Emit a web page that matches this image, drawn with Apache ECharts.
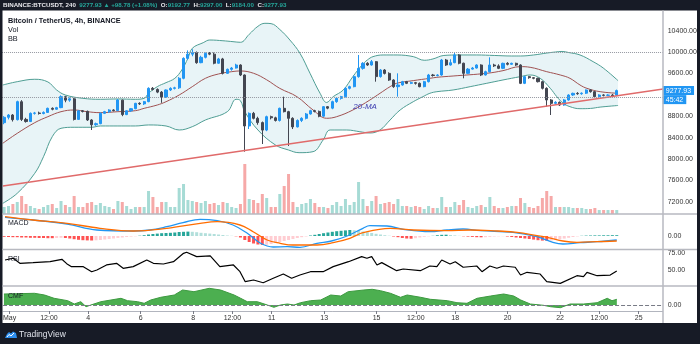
<!DOCTYPE html>
<html><head><meta charset="utf-8">
<script src="https://cdn.jsdelivr.net/npm/echarts@6/dist/echarts.min.js"></script>
<style>html,body{margin:0;padding:0;background:#fff;}#c{width:700px;height:344px;}</style>
</head><body><div id="c"></div>
<script>
// ---------- DATA ----------
// candle index 0 = Apr 30 20:00, step 4h; each candle [open, close, low, high]
const candles = [
[8679,8779,8650,8800],[8779,8822,8740,8840],[8822,8735,8700,8840],[8735,9072,8720,9090],[9070,8740,8710,9100],
[8740,8700,8680,8770],[8700,8853,8690,8870],[8853,8860,8830,8880],[8860,8850,8830,8885],[8850,8870,8835,8890],
[8870,8947,8860,8960],[8947,8930,8910,8965],[8930,8960,8920,8975],[8960,9165,8950,9190],[9165,9100,9060,9180],
[9100,9125,9070,9150],[9125,8740,8720,9140],[8740,8900,8730,8910],[8900,8890,8870,8915],[8890,8729,8710,8905],
[8729,8640,8542,8745],[8640,8660,8620,8680],[8660,8853,8650,8870],[8853,8885,8840,8900],[8885,8916,8860,8930],
[8916,8905,8890,8930],[8905,9103,8895,9120],[9100,8830,8800,9110],[8830,8900,8820,8910],[8900,8940,8880,8950],
[8940,9040,8930,9050],[9040,9030,9010,9060],[9030,9072,9010,9085],[9072,9321,9060,9340],[9321,9300,9280,9345],
[9300,9250,9230,9320],[9250,9160,9050,9270],[9160,9290,9140,9300],[9290,9320,9270,9340],[9320,9330,9300,9350],
[9330,9508,9310,9530],[9508,9881,9490,9900],[9881,9960,9860,10030],[9960,9990,9920,10050],[9990,9800,9780,10010],
[9800,9900,9790,9930],[9900,9975,9880,9990],[9975,9960,9940,10000],[9960,9790,9770,9990],[9790,9870,9780,9890],
[9870,9601,9580,9890],[9601,9676,9590,9690],[9676,9700,9650,9720],[9700,9757,9690,9780],[9757,9570,9550,9770],
[9570,8617,8137,9580],[8617,8853,8560,8870],[8853,8760,8740,8880],[8760,8680,8640,8790],[8680,8540,8280,8700],
[8540,8791,8520,8810],[8791,8770,8740,8810],[8770,8720,8700,8790],[8720,8947,8700,8960],[8947,8885,8870,9165],
[8885,8760,8243,8900],[8760,8600,8560,8780],[8600,8720,8590,8740],[8720,8760,8690,8780],[8760,8841,8740,8860],
[8841,8903,8830,8920],[8903,8890,8870,8920],[8890,8800,8780,8905],[8800,8978,8790,8990],[8978,8950,8930,8990],
[8950,9072,8930,9090],[9072,9134,9050,9150],[9134,9165,9110,9180],[9165,9321,9150,9340],[9321,9352,9300,9370],
[9352,9539,9340,9560],[9539,9694,9520,9944],[9694,9788,9670,9810],[9788,9757,9740,9810],[9757,9819,9745,9850],
[9819,9540,9445,9830],[9540,9663,9520,9680],[9663,9600,9580,9680],[9600,9476,9460,9620],[9476,9352,9330,9490],
[9352,9383,9165,9601],[9383,9445,9370,9460],[9445,9414,9400,9460],[9414,9427,9400,9445],[9427,9414,9390,9440],
[9414,9352,9340,9430],[9352,9445,9340,9460],[9445,9570,9430,9590],[9570,9560,9540,9590],[9560,9570,9545,9585],
[9570,9850,9555,9870],[9850,9757,9740,9870],[9757,9800,9745,9865],[9800,9944,9790,9980],[9944,9790,9770,9960],
[9790,9601,9508,9800],[9601,9680,9590,9700],[9680,9700,9670,9720],[9700,9757,9690,9770],[9757,9570,9550,9770],
[9570,9632,9560,9650],[9632,9757,9620,9900],[9757,9740,9720,9780],[9740,9694,9680,9770],[9694,9788,9680,9800],
[9788,9770,9750,9810],[9770,9788,9760,9800],[9788,9757,9740,9800],[9757,9414,9400,9770],[9414,9539,9400,9550],
[9539,9520,9500,9550],[9520,9508,9490,9530],[9508,9445,9430,9520],[9445,9321,9300,9460],[9321,9103,8978,9340],
[9103,9040,8822,9120],[9040,9060,9020,9080],[9060,9009,8990,9075],[9009,9103,8995,9120],[9103,9196,9090,9210],
[9196,9227,9180,9240],[9227,9220,9200,9250],[9220,9230,9200,9245],[9230,9290,9215,9300],[9290,9258,9240,9305],
[9258,9165,9150,9270],[9165,9196,9150,9210],[9196,9190,9170,9210],[9190,9195,9175,9210],[9195,9179.15,9160,9215],
[9192.77,9277.93,9184,9297]
];
// volume (relative units), one per candle
const volumes = [
7,8,10,12,18,10,8,6,5,7,9,10,6,13,9,7,18,
7,7,11,12,9,11,8,7,5,13,12,8,5,7,7,7,
23,17,7,12,12,7,7,26,30,14,13,12,11,13,10,11,9,12,11,7,6,10,
50,15,14,11,20,16,7,7,20,28,40,12,7,10,11,15,11,7,7,6,
9,12,8,15,9,12,32,15,8,13,18,10,11,12,10,15,8,8,7,8,7,5,8,6,6,17,7,7,12,9,14,7,6,8,9,7,17,8,6,6,7,8,8,16,11,7,6,8,16,23,18,7,7,7,7,6,6,6,5,5,6,4,4,4,4,4
];
// Bollinger bands read at sample points: [candle index, price]
const bbUpper = [[-0.3,9383],[3,9445],[7,9490],[10,9440],[12,9290],[14,9196],[18,9134],[22,9116],[26,9122],[30,9116],[32,9134],[33,9228],[35,9352],[37,9427],[39,9508],[40.6,9664],[42,9882],[43,10069],[45.5,10174],[47,10224],[50,10210],[52.3,10193],[54,10181],[56,10330],[58,10480],[59.6,10536],[61,10530],[63,10420],[65.3,10224],[67.6,9976],[69.9,9602],[72.2,9228],[73.7,9056],[75.2,9165],[77.5,9290],[79.7,9540],[81.8,9757],[83,9850],[84.3,9913],[86.6,9944],[89.8,9944],[93.5,9913],[96,9845],[98,9870],[100.5,9935],[104,9944],[108,9944],[112,9935],[116,9925],[118,9925],[121,9944],[124,9980],[126,10000],[127.5,10010],[129,9990],[131.6,9944],[134.6,9819],[136.9,9701],[140.3,9464]];
const bbBasis = [[-0.3,8294],[3,8480],[7,8679],[10,8791],[13,8884],[16,8916],[19,8884],[22,8866],[26,8884],[30,8903],[32,8947],[35,9009],[37,9071],[40,9196],[43,9352],[46,9508],[49,9589],[52,9632],[54,9645],[57,9602],[60,9480],[63,9320],[66.9,9165],[70.6,8916],[73.7,8761],[76,8791],[79.7,8916],[83.6,9103],[85.9,9228],[88.2,9352],[89.7,9415],[93.5,9465],[97.3,9508],[98.9,9527],[102.6,9551],[110.3,9602],[114,9651],[117.9,9726],[120.2,9714],[124,9632],[127.1,9570],[129.3,9508],[131.6,9383],[133.2,9320],[136.2,9258],[140.3,9228]];
const bbLower = [[-0.3,7172],[3,7359],[7,7733],[9,8043],[11,8417],[13,8574],[16,8593],[20,8593],[22,8617],[30,8617],[33,8636],[37,8617],[40,8542],[43,8604],[46,8729],[51,8884],[53,9116],[54,9090],[55,8884],[58,8542],[62,8262],[65,8168],[67.4,8118],[70.6,8137],[72.9,8355],[74.5,8542],[78.3,8542],[81.3,8510],[83.6,8486],[85.9,8542],[88.2,8729],[90.5,8916],[93.5,9071],[95.7,9165],[97.3,9228],[98.9,9258],[102.6,9290],[106.5,9352],[110.3,9415],[114,9477],[117.9,9538],[120.2,9570],[122.5,9508],[124.8,9322],[126.3,9165],[127.7,9047],[129.3,8978],[131.6,8940],[134,8945],[136.2,8970],[140.3,9000]];
// drawn rising trendline (two anchor points) and horizontal levels
const trendLine = [[-0.26,7495],[150.6,9308]];
const hLevels = [10000, 9160];
const lastPrice = 9277.93, countdown = '45:42';
// MACD
const macdHist = [
-8,-10,-12,-12,-15,-15,
-18,-18,-20,-20,-22,-22,-20,-18,-20,
-25,-32,-38,-42,-44,-45,-43,-40,
-35,-30,-25,-20,-15,-10,-6,-3,
3,8,15,20,24,28,30,32,35,40,42,44,42,38,
32,28,24,20,15,10,5,2,-3,
-15,-40,-60,-75,-85,-90,-88,-80,-70,
-60,-50,-40,-30,-20,-12,-5,
5,12,20,28,35,42,48,52,56,60,58,
52,45,38,30,22,15,8,3,
-5,-12,-20,-25,-27,-22,-15,
-8,-3,2,
8,12,13,10,6,
2,-3,-6,-9,
-12,-13,-12,-9,-5,
-3,-2,-5,-10,
-15,-20,-25,-30,-36,-42,-46,-47,-45,-40,-34,
-26,-18,-10,-4,
2,4,5,6,6,7,7,8,8
];
const macdLine = [[0.2,187],[6.6,160],[14.4,120],[21.2,60],[29.5,50],[33.3,60],[37.2,93],[40.9,133],[44.8,167],[48.7,153],[52.3,110],[55.5,30],[58.5,-70],[61.5,-110],[64.7,-107],[67.6,-113],[71.5,-73],[74.8,-50],[78.4,0],[82,77],[83.6,103],[87.5,100],[91.2,67],[97.3,43],[101.2,60],[104.9,70],[108.8,53],[116.3,37],[121.8,-7],[125.4,-63],[127.7,-80],[131.6,-67],[135.5,-57],[140,-40]];
const signalLine = [[0.2,193],[6.6,160],[14.4,127],[21.9,77],[29.5,50],[37.2,77],[44.8,127],[48.7,143],[53.9,110],[56.9,43],[60.1,-40],[63.1,-73],[66,-90],[71.5,-90],[75.2,-67],[79,-23],[82,33],[88.2,77],[93.5,60],[101.2,53],[106.5,60],[112.7,50],[117.2,37],[124.1,-13],[127.7,-50],[130.9,-63],[135.5,-57],[140,-50]];
// RSI
const rsiLine = [[0.2,64.7],[2.1,67.2],[3.6,59.8],[6.6,60.8],[10.5,62.2],[13.2,65.7],[14.3,59.3],[15.4,54.9],[18.1,54.9],[20,47.5],[21.2,50],[23.4,57.4],[25.7,59.8],[27.2,52.5],[29.5,54.9],[32.6,64.7],[34.1,59.8],[36.4,58.8],[38.7,62.2],[41,74.5],[41.7,76],[44,69.6],[47.1,70.6],[49.3,54.9],[52.4,57.4],[53.9,47.5],[55.1,32.8],[57,35.3],[59.2,31.3],[61.5,37.8],[63.8,44.1],[65.7,37.8],[67.6,42.6],[70,47.5],[72.9,47.5],[75.2,54.9],[78.7,62.2],[81.7,69.6],[82.9,67.2],[84,69.6],[85.2,57.4],[86.3,60.8],[89.7,49],[91.2,51.5],[95.1,49],[97.3,55.9],[98.9,54.9],[100,64.7],[101.9,58.8],[103.1,62.2],[104.9,54],[108,55.9],[109.2,47.5],[111,55.9],[112.6,52.5],[114.1,55.9],[116.8,54],[118,42.6],[119.5,46.6],[122.5,44.1],[124,32.8],[127.1,30.4],[130.9,41.6],[132.4,40.2],[133.2,46.6],[135.5,41.6],[138.5,42.6],[140,48.5]];
// CMF
const cmfLine = [[-0.3,0.11],[6.7,0.117],[9,0.10],[11.2,0.067],[14.3,0.043],[15.8,0.01],[17.3,0.033],[18.5,-0.017],[19.6,0],[21.9,0.033],[24.2,0.05],[26.5,0.067],[28,0.043],[30.3,0.033],[31.8,0.017],[33.3,0.05],[35.6,0.077],[38.7,0.10],[40.6,0.15],[43.2,0.133],[46.7,0.167],[49.3,0.15],[52.4,0.10],[53.9,0.067],[55.4,0.033],[57.7,0.033],[60,0],[61.5,-0.023],[63,0],[64.6,0.01],[66.1,0],[67.6,0.023],[69.9,0.043],[72.2,0.05],[74.5,0.10],[76.8,0.09],[78.5,0.133],[82.1,0.15],[84,0.157],[85.9,0.143],[88.2,0.117],[90.5,0.077],[92,0.10],[95.1,0.077],[97.3,0.057],[101.2,0.043],[103.4,0.023],[105.7,0.017],[108,0.067],[111.1,0.09],[114.1,0.11],[116.4,0.09],[118,0.05],[120.2,0.01],[123.2,-0.003],[124.8,-0.017],[127.1,-0.027],[129.3,0.01],[132.4,0.01],[135.5,0.023],[137.8,0.067],[138.9,0.043],[140,0.057]];
// tick labels
const priceTicks = [7200,7600,8000,8400,8800,9600,10000,10400];
const macdTicks = [0], rsiTicks = [50,75], cmfTicks = [0];
const timeTicks = [['05-01 00:00','May'],['05-02 12:00','12:00'],['05-04 00:00','4'],['05-06 00:00','6'],['05-08 00:00','8'],['05-09 12:00','12:00'],['05-11 00:00','11'],['05-13 00:00','13'],['05-15 00:00','15'],['05-16 12:00','12:00'],['05-18 00:00','18'],['05-20 00:00','20'],['05-22 00:00','22'],['05-23 12:00','12:00'],['05-25 00:00','25']];

// ---------- BUILD ----------
const SLOTS = 151, START = Date.UTC(2020,3,30,20,0);
const p2 = n => String(n).padStart(2,'0');
const categories = [];
for (let k = 0; k < SLOTS; k++) {
  const d = new Date(START + k*4*3600e3);
  categories.push(p2(d.getUTCMonth()+1)+'-'+p2(d.getUTCDate())+' '+p2(d.getUTCHours())+':00');
}
const tickMap = Object.fromEntries(timeTicks);
const isTick = (idx) => tickMap[categories[idx]] !== undefined;
const isUp = candles.map(c => c[1] >= c[0]);
const volData = volumes.map((v,k) => ({value: v, itemStyle: {color: isUp[k] ? '#a6dbd5' : '#f6a9a8'}}));
const histData = macdHist.map((v,k) => {
  const p = k ? macdHist[k-1] : v;
  const col = v >= 0 ? (v >= p ? '#26a69a' : '#b2dfdb') : (v <= p ? '#ff5252' : '#ffcdd2');
  return {value: v, itemStyle: {color: col}};
});

const FONT = 'Liberation Sans';
const L = 1.94, R = 37.3;
const hidCat = g => ({type:'category', gridIndex:g, data:categories, show:false});
const hidVal = g => ({type:'value', gridIndex:g, min:-0.5, max:SLOTS-0.5, show:false});
const rightAxis = (g, min, max, ticks) => ({
  type:'value', gridIndex:g, position:'right', min, max,
  splitLine:{show:false}, axisLine:{show:false}, axisTick:{show:false},
  axisLabel:{customValues:ticks, fontSize:7, color:'#333', margin:5, fontFamily:FONT, formatter: v => v.toFixed(2)}
});

const option = {
  backgroundColor:'#fff', animation:false,
  grid:[
    {left:L, right:R, top:11, height:203},
    {left:L, right:R, top:134, height:80},
    {left:L, right:R, top:214, height:35.5},
    {left:L, right:R, top:249.5, height:36.5},
    {left:L, right:R, top:286, height:25}
  ],
  xAxis:[
    hidCat(0), hidVal(0), hidCat(1), hidCat(2), hidVal(2), hidVal(3), hidVal(4),
    {type:'category', gridIndex:4, data:categories, position:'bottom',
     axisLine:{show:true, lineStyle:{color:'#b2b5be', width:1}},
     axisTick:{show:true, alignWithLabel:true, interval:isTick, length:3, lineStyle:{color:'#787b86'}},
     axisLabel:{interval:isTick, fontSize:7, color:'#333', margin:4, fontFamily:FONT, formatter: v => tickMap[v] || ''}}
  ],
  yAxis:[
    rightAxis(0, 6972, 10766, priceTicks),
    {type:'value', gridIndex:1, min:0, max:80, show:false},
    rightAxis(2, -135, 220, macdTicks),
    rightAxis(3, 26.5, 80.1, rsiTicks),
    rightAxis(4, -0.06, 0.19, cmfTicks)
  ],
  series:[
    {type:'line', name:'BB upper', xAxisIndex:1, yAxisIndex:0, data:bbUpper, smooth:0.4, symbol:'none', z:1,
     lineStyle:{color:'#4f9e94', width:1}, areaStyle:{color:'#e8f4f7', opacity:1, origin:'start'}},
    {type:'line', name:'BB lower', xAxisIndex:1, yAxisIndex:0, data:bbLower, smooth:0.4, symbol:'none', z:1,
     lineStyle:{color:'#4f9e94', width:1}, areaStyle:{color:'#ffffff', opacity:1, origin:'start'}},
    {type:'line', name:'20-MA', xAxisIndex:1, yAxisIndex:0, data:bbBasis, smooth:0.4, symbol:'none', z:2,
     lineStyle:{color:'#a05252', width:1},
     markPoint:{symbol:'circle', symbolSize:0, data:[{coord:[82.5, 8985]}],
       label:{show:true, formatter:'20-MA', color:'#3d3db0', fontStyle:'italic', fontSize:8, fontFamily:FONT}}},
    {type:'candlestick', name:'BTCUSDT', xAxisIndex:0, yAxisIndex:0, data:candles, barWidth:2.6, z:3,
     itemStyle:{color:'#2196f3', color0:'#434651', borderColor:'#2196f3', borderColor0:'#434651', borderWidth:1},
     markLine:{silent:true, symbol:'none', animation:false,
       data:hLevels.map(v => ({yAxis:v})), label:{show:false},
       lineStyle:{type:'dotted', color:'#9598a1', width:1}}},
    {type:'line', name:'last', xAxisIndex:1, yAxisIndex:0, data:[[150.5, lastPrice]], symbol:'circle', symbolSize:0.1, z:20,
     label:{show:true, position:'right', distance:0, offset:[0,4.5],
       formatter:'{a|'+lastPrice.toFixed(2)+'}\n{b|'+countdown+'}',
       rich:{a:{backgroundColor:'#2196f3', color:'#fff', fontSize:7, padding:[1,3,1,3], fontFamily:FONT, lineHeight:9},
             b:{backgroundColor:'#2196f3', color:'#fff', fontSize:7, padding:[1,3,1,3], fontFamily:FONT, lineHeight:9}}}},
    {type:'line', name:'trend', xAxisIndex:1, yAxisIndex:0, data:trendLine, symbol:'none', z:4,
     lineStyle:{color:'#e06a6a', width:1.3}},
    {type:'bar', name:'Vol', xAxisIndex:2, yAxisIndex:1, data:volData, barWidth:3, z:2},
    {type:'bar', name:'Histogram', xAxisIndex:3, yAxisIndex:2, data:histData, barWidth:3},
    {type:'line', name:'MACD', xAxisIndex:4, yAxisIndex:2, data:macdLine, smooth:0.4, symbol:'none',
     lineStyle:{color:'#2196f3', width:1.3}},
    {type:'line', name:'Signal', xAxisIndex:4, yAxisIndex:2, data:signalLine, smooth:0.4, symbol:'none',
     lineStyle:{color:'#ff6d00', width:1.3}},
    {type:'line', name:'RSI', xAxisIndex:5, yAxisIndex:3, data:rsiLine, symbol:'none',
     lineStyle:{color:'#000', width:1.2}},
    {type:'line', name:'CMF', xAxisIndex:6, yAxisIndex:4, data:cmfLine, symbol:'none',
     lineStyle:{color:'#3d9a40', width:1}, areaStyle:{color:'#4caf50', opacity:1, origin:'auto'},
     markLine:{silent:true, symbol:'none', data:[{yAxis:0}], label:{show:false},
       lineStyle:{type:'dashed', color:'#787b86', width:1}}}
  ],
  graphic:[
    {type:'rect', z:100, shape:{x:0,y:0,width:700,height:10.5}, style:{fill:'#171b26'}},
    {type:'rect', z:100, shape:{x:0,y:0,width:2.5,height:344}, style:{fill:'#171b26'}},
    {type:'rect', z:100, shape:{x:697,y:0,width:3,height:344}, style:{fill:'#171b26'}},
    {type:'rect', z:100, shape:{x:0,y:323,width:700,height:21}, style:{fill:'#171b26'}},
    {type:'line', z:101, shape:{x1:2.5,y1:214,x2:697,y2:214}, style:{stroke:'#b7b9c0', lineWidth:1.5}},
    {type:'line', z:101, shape:{x1:2.5,y1:249.5,x2:697,y2:249.5}, style:{stroke:'#b7b9c0', lineWidth:1.5}},
    {type:'line', z:101, shape:{x1:2.5,y1:286,x2:697,y2:286}, style:{stroke:'#b7b9c0', lineWidth:1.5}},
    {type:'line', z:101, shape:{x1:663,y1:10.5,x2:663,y2:323}, style:{stroke:'#b7b9c0', lineWidth:1.5}},
    {type:'text', z:102, x:3, y:5.5, style:{
      text:'{w|BINANCE:BTCUSDT, 240  }{g|9277.93 ▲ +98.78 (+1.08%)  }{w|O:}{g|9192.77  }{w|H:}{g|9297.00  }{w|L:}{g|9184.00  }{w|C:}{g|9277.93}',
      verticalAlign:'middle',
      rich:{w:{fill:'#e8e8ec', fontSize:6.2, fontWeight:'bold', fontFamily:FONT},
            g:{fill:'#26a69a', fontSize:6.2, fontWeight:'bold', fontFamily:FONT}}}},
    {type:'text', z:102, x:8, y:21, style:{text:'Bitcoin / TetherUS, 4h, BINANCE', fill:'#131722', fontSize:7.3, fontWeight:'bold', fontFamily:FONT, verticalAlign:'middle'}},
    {type:'text', z:102, x:8, y:30, style:{text:'Vol', fill:'#131722', fontSize:7.3, fontFamily:FONT, verticalAlign:'middle'}},
    {type:'text', z:102, x:8, y:39, style:{text:'BB', fill:'#131722', fontSize:7.3, fontFamily:FONT, verticalAlign:'middle'}},
    {type:'text', z:102, x:8, y:223, style:{text:'MACD', fill:'#131722', fontSize:7, fontFamily:FONT, verticalAlign:'middle'}},
    {type:'text', z:102, x:8, y:259, style:{text:'RSI', fill:'#131722', fontSize:7, fontFamily:FONT, verticalAlign:'middle'}},
    {type:'text', z:102, x:8, y:296, style:{text:'CMF', fill:'#131722', fontSize:7, fontFamily:FONT, verticalAlign:'middle'}},
    {type:'polygon', z:102, shape:{points:[[5,338],[7,334],[9,332],[11,333.5],[13,331.5],[16,333],[17,338]]}, style:{fill:'#2d8ff0'}},
    {type:'polyline', z:103, shape:{points:[[7,337],[9,334.5],[11,336],[14,333]]}, style:{stroke:'#fff', lineWidth:1, fill:null}},
    {type:'text', z:102, x:19, y:335, style:{text:'TradingView', fill:'#e0e3eb', fontSize:8.5, fontFamily:FONT, verticalAlign:'middle'}}
  ]
};
echarts.init(document.getElementById('c'), null, {renderer:'canvas'}).setOption(option);
</script>
</body></html>
